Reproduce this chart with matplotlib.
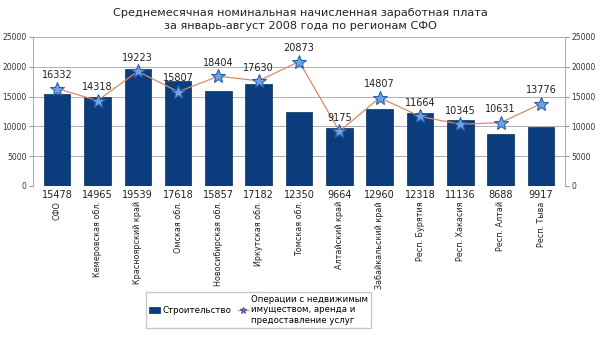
# Среднемесячная зарплата по регионам СФО, январь-август 2008
import matplotlib.pyplot as plt
from matplotlib.transforms import blended_transform_factory

regions = ['СФО', 'Кемеровская обл.', 'Красноярский край', 'Омская обл.',
           'Новосибирская обл.', 'Иркутская обл.', 'Томская обл.', 'Алтайский край',
           'Забайкальский край', 'Респ. Бурятия', 'Респ. Хакасия', 'Респ. Алтай',
           'Респ. Тыва']
construction = [15478, 14965, 19539, 17618, 15857, 17182, 12350, 9664, 12960,
                12318, 11136, 8688, 9917]
real_estate = [16332, 14318, 19223, 15807, 18404, 17630, 20873, 9175, 14807,
               11664, 10345, 10631, 13776]
yticks = [0, 5000, 10000, 15000, 20000, 25000]

plt.rcParams['font.family'] = 'DejaVu Sans'
fig = plt.figure(figsize=(6, 3.45), dpi=100)
ax = fig.add_axes([0.055, 0.461, 0.887, 0.432])

x = list(range(len(regions)))
bars = ax.bar(x, construction, width=0.66, color='#0b3d7e', edgecolor='#08305f',
              linewidth=0.5, label='Строительство', zorder=2)
line, = ax.plot(x, real_estate, color='#d98a6a', lw=0.9, marker='*', ms=10,
                mfc='#6fa2e0', mec='#2a5fb0', mew=0.8, zorder=3,
                label='Операции с недвижимым\nимуществом, аренда и\nпредоставление услуг')

ax.set_xlim(-0.6, len(regions) - 0.4)
ax.set_ylim(0, 25000)
ax.set_yticks(yticks)
ax.tick_params(axis='y', labelsize=5.5, length=3, pad=1.5, color='#999999',
               labelcolor='#333333')
ax.yaxis.grid(True, color='#b0b0b0', lw=0.7, zorder=0)
for s in ['top', 'bottom']:
    ax.spines[s].set_visible(False)
for s in ['left', 'right']:
    ax.spines[s].set_color('#aaaaaa')
    ax.spines[s].set_linewidth(0.7)
ax.axhline(0, color='#999999', lw=0.7, zorder=1)

ax2 = ax.twinx()
ax2.set_ylim(0, 25000)
ax2.set_yticks(yticks)
ax2.tick_params(axis='y', labelsize=5.5, length=3, pad=1.5, color='#999999',
                labelcolor='#333333')
for s in ['top', 'bottom', 'left', 'right']:
    ax2.spines[s].set_visible(False)

# подписи категорий и значений столбцов
ax.set_xticks(x)
ax.set_xticklabels(regions, rotation=90, fontsize=5.8, va='top', color='#222222')
ax.tick_params(axis='x', length=0, pad=11)
trans = blended_transform_factory(ax.transData, ax.transAxes)
for xi, v in zip(x, construction):
    ax.text(xi, -0.025, str(v), transform=trans, ha='center', va='top',
            fontsize=7, color='#222222')
for xi, v in zip(x, real_estate):
    ax.annotate(str(v), (xi, v), xytext=(0, 6), textcoords='offset points',
                ha='center', va='bottom', fontsize=7, color='#222222')

fig.text(0.5, 0.91, 'Среднемесячная номинальная начисленная заработная плата\n'
         'за январь-август 2008 года по регионам СФО', ha='center', va='bottom',
         fontsize=8.1, color='#222222', linespacing=1.4)

fig.legend(handles=[bars, line], loc='upper left', bbox_to_anchor=(0.243, 0.155),
           ncol=2, fontsize=6.2, frameon=True, fancybox=False, edgecolor='#bbbbbb',
           handlelength=1.2, handletextpad=0.3, columnspacing=0.8,
           borderpad=0.4, borderaxespad=0, markerscale=0.5)

fig.savefig('out.png', dpi=100)
